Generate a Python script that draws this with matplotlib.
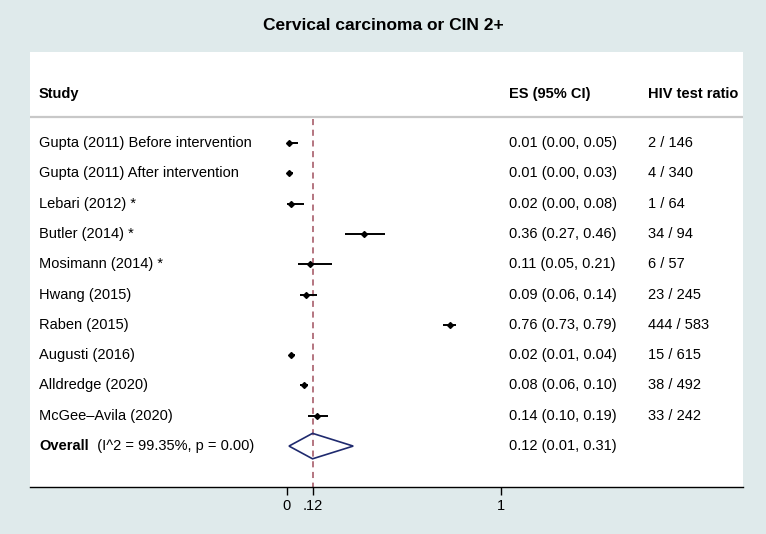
import matplotlib
matplotlib.use("Agg")
import matplotlib.pyplot as plt
from matplotlib.patches import Polygon

# === DATA ===
studies = [
    "Gupta (2011) Before intervention",
    "Gupta (2011) After intervention",
    "Lebari (2012) *",
    "Butler (2014) *",
    "Mosimann (2014) *",
    "Hwang (2015)",
    "Raben (2015)",
    "Augusti (2016)",
    "Alldredge (2020)",
    "McGee\u2013Avila (2020)",
]
es = [0.01, 0.01, 0.02, 0.36, 0.11, 0.09, 0.76, 0.02, 0.08, 0.14]
ci_low = [0.00, 0.00, 0.00, 0.27, 0.05, 0.06, 0.73, 0.01, 0.06, 0.10]
ci_high = [0.05, 0.03, 0.08, 0.46, 0.21, 0.14, 0.79, 0.04, 0.10, 0.19]
hiv_ratio = ["2 / 146", "4 / 340", "1 / 64", "34 / 94", "6 / 57",
             "23 / 245", "444 / 583", "15 / 615", "38 / 492", "33 / 242"]
overall_es, overall_low, overall_high = 0.12, 0.01, 0.31
overall_stats = "(I^2 = 99.35%, p = 0.00)"
tick_vals = [0, 0.12, 1]
tick_labels = ["0", ".12", "1"]

BG = "#dfeaeb"
FS = 10.5
plt.rcParams["font.family"] = ["Liberation Sans", "DejaVu Sans"]

fig = plt.figure(figsize=(7.66, 5.34), dpi=100, facecolor=BG)
ax = fig.add_axes([30 / 766, 1 - 487 / 534, 713 / 766, 435 / 534])
ax.set_facecolor("white")

# x in data units (effect size), y in row units (0 = first study)
ax.set_xlim(-1.20, 2.131)
ax.set_ylim(11.35, -3.0)

n = len(studies)
rows = list(range(n))
overall_row = n

# column positions (axes fraction)
col_study = 9 / 713
col_es = 479 / 713
col_hiv = 618 / 713
tr = ax.get_yaxis_transform()  # x in axes fraction, y in data

# CI lines and points
for i in rows:
    ax.plot([ci_low[i], ci_high[i]], [i, i], color="black", lw=1.4,
            solid_capstyle="butt", zorder=3)
ax.plot(es, rows, "D", color="black", markersize=3.0, zorder=4)

# overall diamond
dia = Polygon([[overall_low, overall_row], [overall_es, overall_row - 0.42],
               [overall_high, overall_row], [overall_es, overall_row + 0.42]],
              closed=True, fill=False, edgecolor="#1f2a6e", lw=1.2, zorder=3)
ax.add_patch(dia)

# reference dashed line at the pooled estimate
ax.plot([overall_es, overall_es], [-0.80, 11.35], color="#a0505e",
        lw=1.1, ls=(0, (4, 3)), zorder=2)

# header
hy = -1.62
ax.text(col_study, hy, "Study", transform=tr, fontsize=FS,
        fontweight="bold", va="center", ha="left")
ax.text(col_es, hy, "ES (95% CI)", transform=tr, fontsize=FS,
        fontweight="bold", va="center", ha="left")
ax.text(col_hiv, hy, "HIV test ratio", transform=tr, fontsize=FS,
        fontweight="bold", va="center", ha="left")
ax.axhline(-0.86, color="#c8c8c8", lw=1.6)

for i in rows:
    ax.text(col_study, i, studies[i], transform=tr, fontsize=FS,
            va="center", ha="left")
    ax.text(col_es, i, f"{es[i]:.2f} ({ci_low[i]:.2f}, {ci_high[i]:.2f})",
            transform=tr, fontsize=FS, va="center", ha="left")
    ax.text(col_hiv, i, hiv_ratio[i], transform=tr, fontsize=FS,
            va="center", ha="left")

t = ax.text(col_study, overall_row, "Overall", transform=tr, fontsize=FS,
            fontweight="bold", va="center", ha="left")
ax.annotate("  " + overall_stats, xycoords=t, xy=(1, 0.5), va="center",
            ha="left", fontsize=FS)
ax.text(col_es, overall_row,
        f"{overall_es:.2f} ({overall_low:.2f}, {overall_high:.2f})",
        transform=tr, fontsize=FS, va="center", ha="left")

# axes styling
for s in ["top", "left", "right"]:
    ax.spines[s].set_visible(False)
ax.spines["bottom"].set_linewidth(1.0)
ax.set_yticks([])
ax.set_xticks(tick_vals)
ax.set_xticklabels(tick_labels, fontsize=FS)
ax.tick_params(axis="x", length=6, width=1, pad=3)

fig.suptitle("Cervical carcinoma or CIN 2+", y=1 - 26 / 534, va="center",
             fontsize=12.5, fontweight="bold")

fig.savefig("out.png", dpi=100, facecolor=BG)
